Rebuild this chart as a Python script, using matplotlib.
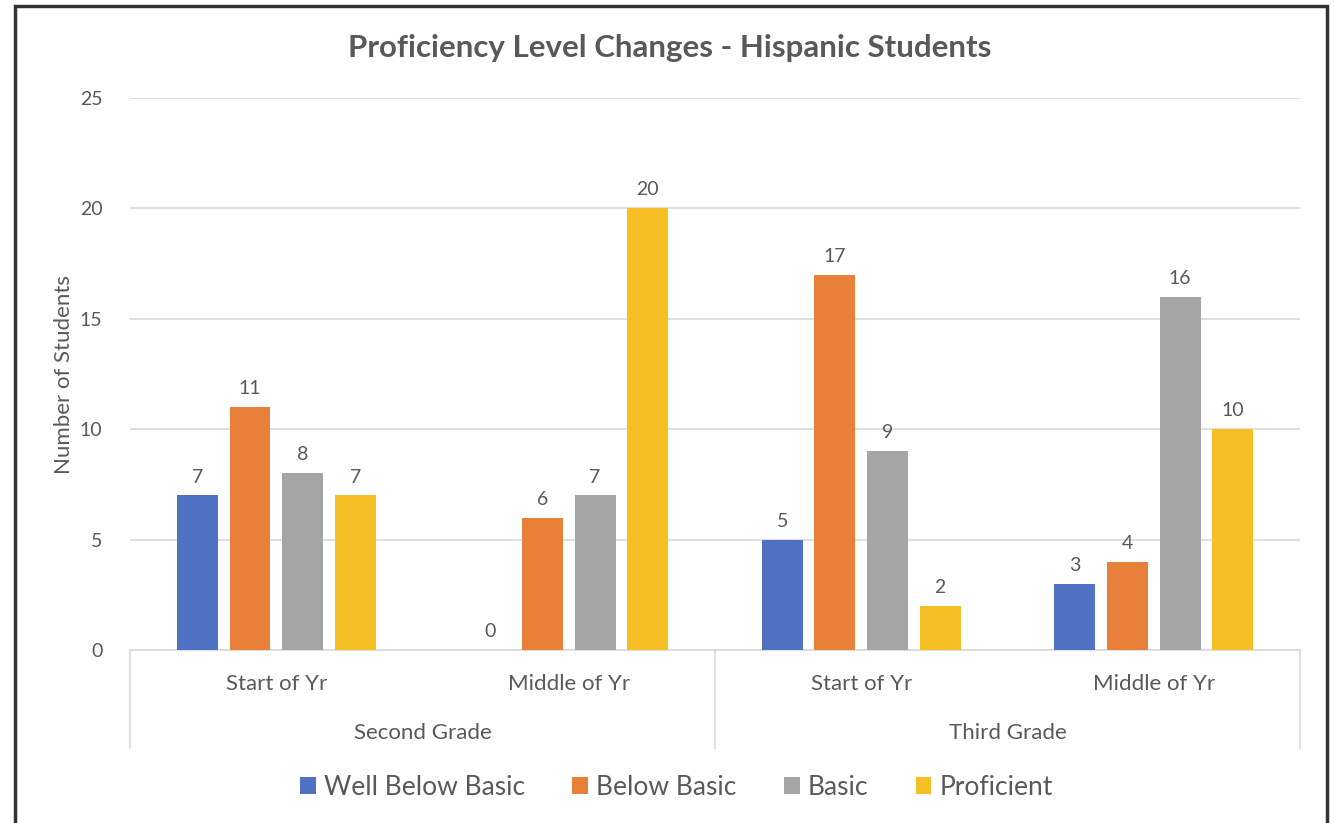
import matplotlib
matplotlib.use("Agg")
import matplotlib.pyplot as plt
from matplotlib.patches import Rectangle, Patch
import matplotlib.transforms as mtrans
import numpy as np

plt.rcParams['font.family'] = ['Lato', 'DejaVu Sans']

# datos
periodos = ["Start of Yr", "Middle of Yr", "Start of Yr", "Middle of Yr"]
grados = ["Second Grade", "Third Grade"]
niveles = ["Well Below Basic", "Below Basic", "Basic", "Proficient"]
well_below = [7, 0, 5, 3]
below = [11, 6, 17, 4]
basic = [8, 7, 9, 16]
proficient = [7, 20, 2, 10]
series = [well_below, below, basic, proficient]
colores = ["#4F72C4", "#E8803A", "#A5A5A5", "#F7BF26"]
gris = "#595959"

fig = plt.figure(figsize=(13.34, 8.23), dpi=100)
ax = fig.add_axes([0.0975, 0.2102, 0.877, 0.6707])

x = np.arange(len(periodos))
ancho = 0.14
paso = 0.18
for i, vals in enumerate(series):
    pos = x + (i - 1.5) * paso
    ax.bar(pos, vals, width=ancho, color=colores[i], zorder=3)
    for p, v in zip(pos, vals):
        ax.text(p, v + 0.45, str(v), ha='center', va='bottom', fontsize=14, color=gris)

ax.set_xlim(-0.5, 3.5)
ax.set_ylim(0, 25)
ax.set_yticks(range(0, 26, 5))
ax.tick_params(axis='y', length=0, labelsize=14, labelcolor=gris, pad=20)
ax.set_xticks([])
ax.grid(axis='y', color='#D9D9D9', linewidth=1.2, zorder=0)
for s in ['top', 'right', 'left']:
    ax.spines[s].set_visible(False)
ax.spines['bottom'].set_color('#D9D9D9')
ax.spines['bottom'].set_linewidth(1.2)
ax.set_ylabel("Number of Students", fontsize=16, color=gris, labelpad=4)

# eje de categorias en dos niveles
trans = mtrans.blended_transform_factory(ax.transData, ax.transAxes)
for xi, lab in zip(x, periodos):
    ax.text(xi, -0.062, lab, transform=trans, ha='center', va='center', fontsize=16, color=gris)
for k, g in enumerate(grados):
    ax.text(2 * k + 0.5, -0.151, g, transform=trans, ha='center', va='center', fontsize=16, color=gris)
for xs in [-0.5, 1.5, 3.5]:
    ax.plot([xs, xs], [0, -0.178], transform=trans, color='#D9D9D9', linewidth=1.2, clip_on=False)

fig.text(670 / 1334, (823 - 48) / 823, "Proficiency Level Changes - Hispanic Students",
         fontsize=22.5, fontweight='bold', color=gris, ha='center', va='center')

handles = [Patch(facecolor=c, label=n) for c, n in zip(colores, niveles)]
fig.legend(handles=handles, loc='center', bbox_to_anchor=(0.507, 0.0437), ncol=4, frameon=False,
           fontsize=19, labelcolor=gris, handlelength=0.6, handleheight=0.6, handletextpad=0.3,
           columnspacing=1.8)

# marco
fig.patches.append(Rectangle((15 / 1334, -0.05), (1327 - 15) / 1334, (823 - 6) / 823 + 0.05,
                             transform=fig.transFigure, fill=False, edgecolor='#333333',
                             linewidth=2.5))

fig.savefig("out.png", dpi=100)
